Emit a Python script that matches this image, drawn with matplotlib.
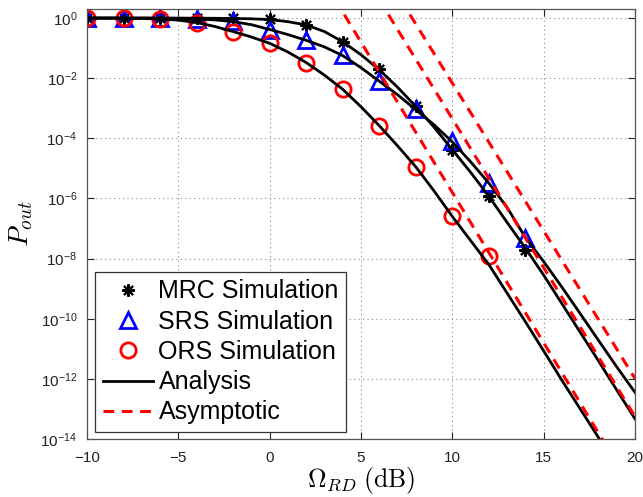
import numpy as np
import matplotlib
matplotlib.use("Agg")
import matplotlib.pyplot as plt
from matplotlib.lines import Line2D
from matplotlib.ticker import FixedLocator, NullLocator

plt.rcParams['font.family'] = ['Liberation Sans', 'DejaVu Sans']

# ---- data (outage probabilities given as log10 exponents) ----
snr_sim = [-10, -8, -6, -4, -2, 0, 2, 4, 6, 8, 10, 12, 14]
mrc_sim_exp = [0.0, 0.0, 0.0, 0.0, -0.01, -0.03, -0.23, -0.79, -1.70, -2.94, -4.38, -5.93, -7.70]
srs_sim_exp = [0.0, 0.0, 0.0, -0.02, -0.10, -0.40, -0.73, -1.23, -2.10, -3.03, -4.10, -5.49, -7.31]
snr_sim_ors = [-10, -8, -6, -4, -2, 0, 2, 4, 6, 8, 10, 12]
ors_sim_exp = [-0.002, -0.008, -0.03, -0.17, -0.45, -0.84, -1.48, -2.37, -3.58, -4.95, -6.60, -7.90]

snr_ana = list(range(-10, 21))
mrc_ana_exp = [0.0, 0.0, 0.0, 0.0, -0.001, -0.002, -0.004, -0.008, -0.015, -0.025,
               -0.05, -0.12, -0.23, -0.45, -0.79, -1.22, -1.72, -2.30, -2.94, -3.63,
               -4.38, -5.13, -5.93, -6.80, -7.65, -8.55, -9.50, -10.45, -11.40, -12.37, -13.33]
srs_ana_exp = [0.0, 0.0, 0.0, -0.002, -0.005, -0.012, -0.03, -0.06, -0.12, -0.22,
               -0.38, -0.55, -0.74, -0.96, -1.25, -1.65, -2.10, -2.55, -3.05, -3.55,
               -4.12, -4.78, -5.49, -6.30, -7.30, -8.10, -8.95, -9.83, -10.72, -11.60, -12.45]
ors_ana_exp = [-0.002, -0.004, -0.008, -0.015, -0.03, -0.07, -0.15, -0.28, -0.45, -0.63,
               -0.84, -1.13, -1.48, -1.90, -2.37, -2.95, -3.58, -4.25, -4.95, -5.75,
               -6.60, -7.40, -8.20, -9.15, -10.10, -11.07, -12.05, -13.00, -13.95, -14.92, -15.90]

snr_asym = [0, 20]
mrc_asym_exp = [6.55, -13.25]
srs_asym_exp = [7.66, -11.99]
ors_asym_exp = [4.20, -15.80]

xticks = [-10, -5, 0, 5, 10, 15, 20]
yticks_exp = [0, -2, -4, -6, -8, -10, -12, -14]

legend_labels = ['MRC Simulation', 'SRS Simulation', 'ORS Simulation', 'Analysis', 'Asymptotic']

def p(e):
    return 10.0 ** np.asarray(e, dtype=float)

# ---- figure ----
fig = plt.figure(figsize=(6.43, 4.97), dpi=100)
ax = fig.add_axes([87/643, (497-439)/497, (635-87)/643, (439-9)/497])

ms_kw = dict(linestyle='none', markerfacecolor='none')
star_kw = dict(marker=(8, 2, 0), markersize=9, color='black', markeredgewidth=1.5, **ms_kw)
tri_kw = dict(marker='^', markersize=12, color='#0000ff', markeredgewidth=2.0, **ms_kw)
circ_kw = dict(marker='o', markersize=11, color='#ff0000', markeredgewidth=2.0, **ms_kw)
ana_kw = dict(color='black', linewidth=2.0)
asym_kw = dict(color='#ff0000', linewidth=2.2, linestyle=(0, (3.5, 2.5)))

ax.semilogy(snr_sim, p(mrc_sim_exp), **star_kw)
ax.semilogy(snr_sim, p(srs_sim_exp), **tri_kw)
ax.semilogy(snr_sim_ors, p(ors_sim_exp), **circ_kw)

for e in (mrc_ana_exp, srs_ana_exp, ors_ana_exp):
    ax.semilogy(snr_ana, p(e), **ana_kw)
for e in (mrc_asym_exp, srs_asym_exp, ors_asym_exp):
    ax.semilogy(snr_asym, p(e), **asym_kw)

ax.set_xlim(-10, 20)
ax.set_ylim(1e-14, 2)
ax.xaxis.set_major_locator(FixedLocator(xticks))
ax.yaxis.set_major_locator(FixedLocator([10.0 ** e for e in yticks_exp]))
ax.yaxis.set_minor_locator(NullLocator())
ax.grid(True, which='major', linestyle=(0, (1, 3)), color='#888888', linewidth=0.8)

ax.tick_params(direction='in', top=True, right=True, length=5, width=0.8,
               labelsize=11, colors='#222222')
ax.tick_params(axis='x', pad=9)
ax.tick_params(axis='y', pad=7)
for s in ax.spines.values():
    s.set_color('#555555')
    s.set_linewidth(0.9)

ax.set_xlabel(r'$\Omega_{RD}\;\mathrm{(dB)}$', fontsize=18.5, math_fontfamily='cm', labelpad=0)
ax.set_ylabel(r'$P_{out}$', fontsize=20, math_fontfamily='cm', labelpad=4)

handles = [
    Line2D([], [], **star_kw),
    Line2D([], [], **tri_kw),
    Line2D([], [], **circ_kw),
    Line2D([], [], **ana_kw),
    Line2D([], [], **asym_kw),
]
leg = ax.legend(handles, legend_labels, loc='lower left',
                bbox_to_anchor=(8/548, 7/430), borderaxespad=0,
                fontsize=18, frameon=True, fancybox=False, framealpha=1,
                edgecolor='#333333', handlelength=2.0, handletextpad=0.24,
                labelspacing=0.25, borderpad=0.3)
leg.get_frame().set_linewidth(0.9)

fig.savefig('out.png', dpi=100)
